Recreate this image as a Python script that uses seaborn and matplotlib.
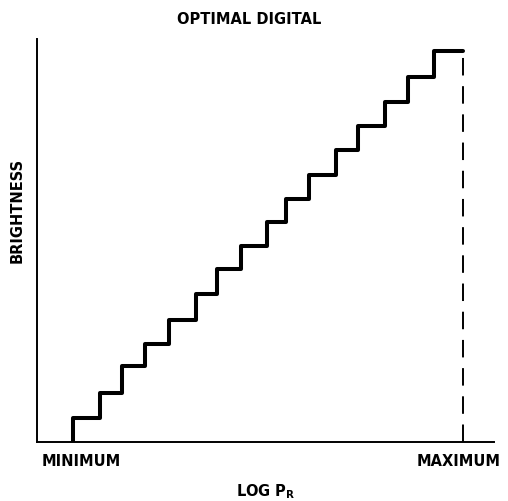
import numpy as np
import pandas as pd
import matplotlib
matplotlib.use("Agg")
import matplotlib.pyplot as plt
import seaborn as sns


# ==========================================
# DATA
# ==========================================

# step edges along log P_R (0 = minimum, 16 = maximum, one unit per level)
step_edges = [0, 1.11, 2.01, 2.95, 3.94, 5.05, 5.91, 6.89, 7.96,
              8.74, 9.68, 10.79, 11.69, 12.80, 13.74, 14.81, 16.0]

# brightness level of each step (first value = start on the axis)
brightness = [0, 1.0, 2.0, 3.1, 4.0, 5.0, 6.05, 7.05, 8.0,
              9.0, 9.95, 10.9, 11.95, 12.9, 13.9, 14.9, 16.0]

# dashed limit at maximum log P_R
limit_x = [16.0, 16.0]
limit_y = [0, 16.0]

tick_pos = [0.33, 15.8]
tick_labels = ["MINIMUM", "MAXIMUM"]

title = "OPTIMAL DIGITAL"
xlabel = r"LOG P$_\mathbf{R}$"
ylabel = "BRIGHTNESS"

df = pd.DataFrame({"logp": step_edges, "brightness": brightness})

# ==========================================
# STYLE
# ==========================================

sns.set_style("white")
plt.rcParams["font.family"] = ["DejaVu Sans"]
plt.rcParams["font.weight"] = "bold"
plt.rcParams["mathtext.default"] = "bf"
plt.rcParams["text.color"] = "black"
plt.rcParams["axes.labelcolor"] = "black"
plt.rcParams["xtick.color"] = "black"
plt.rcParams["ytick.color"] = "black"

# ==========================================
# PLOT
# ==========================================

fig = plt.figure(figsize=(5.08, 5.02), dpi=100)
ax = fig.add_axes([37 / 508, 59 / 502, 457 / 508, 403 / 502])

sns.lineplot(
    data=df,
    x="logp",
    y="brightness",
    drawstyle="steps-pre",
    estimator=None,
    sort=False,
    color="black",
    linewidth=2.9,
    ax=ax
)

sns.lineplot(
    x=limit_x,
    y=limit_y,
    estimator=None,
    color="black",
    linewidth=1.4,
    dashes=False,
    ax=ax
)
ax.lines[-1].set_dashes((9, 5.5))

ax.set_xlim(-1.477, 17.27)
ax.set_ylim(0, 16.47)

for side in ["top", "right"]:
    ax.spines[side].set_visible(False)
for side in ["left", "bottom"]:
    ax.spines[side].set_linewidth(1.4)
    ax.spines[side].set_color("black")

ax.set_xticks(tick_pos)
ax.set_xticklabels(tick_labels, fontsize=10.5, fontweight="bold",
                   color="black")
ax.set_yticks([])
ax.tick_params(axis="x", length=0, pad=8)

ax.set_xlabel(xlabel, fontsize=10.5, fontweight="bold", color="black")
ax.xaxis.set_label_coords(0.5, -0.097)
ax.set_ylabel(ylabel, fontsize=10.5, fontweight="bold", color="black")
ax.yaxis.set_label_coords(-0.027, 0.576)

fig.text(249 / 508, 1 - 20 / 502, title, color="black",
         ha="center", va="center", fontsize=10.5, fontweight="bold")

fig.savefig("out.png", dpi=100)
